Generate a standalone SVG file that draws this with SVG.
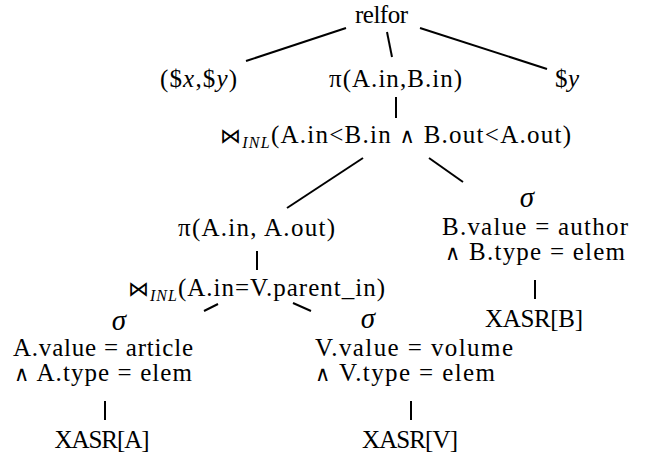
<svg xmlns="http://www.w3.org/2000/svg" width="654" height="456" viewBox="0 0 654 456">
<style>
text{font-family:"Liberation Serif","DejaVu Serif",serif;font-size:25px;fill:#000;text-anchor:middle}
.it{font-style:italic}
.sig{font-style:italic;font-size:29px}
.sub{font-style:italic;font-size:16px}
.sym{font-family:"DejaVu Sans","Liberation Serif",sans-serif;font-size:21px;font-weight:normal}
line{stroke:#000;stroke-width:2;stroke-linecap:butt}
</style>
<rect width="654" height="456" fill="#fff"/>
<g id="connectors">
<line x1="346" y1="28" x2="246" y2="61"/>
<line x1="387" y1="32" x2="392" y2="57"/>
<line x1="420" y1="28" x2="547" y2="69"/>
<line x1="396" y1="97" x2="396" y2="118"/>
<line x1="363" y1="158" x2="287" y2="208"/>
<line x1="429" y1="158" x2="463" y2="182"/>
<line x1="257" y1="251" x2="257" y2="270"/>
<line x1="218" y1="304" x2="204" y2="311"/>
<line x1="293" y1="303" x2="311" y2="311"/>
<line x1="535" y1="280" x2="535" y2="299"/>
<line x1="105" y1="401" x2="105" y2="420"/>
<line x1="411" y1="401" x2="411" y2="420"/>
</g>
<g id="relfor"><text x="381.5" y="23" textLength="53">relfor</text></g>
<g id="vars"><text x="198.5" y="87" textLength="77">($<tspan class="it">x</tspan>,$<tspan class="it">y</tspan>)</text></g>
<g id="proj1"><text x="395.5" y="87" textLength="133">π(A.in,B.in)</text></g>
<g id="y"><text x="567" y="87" textLength="24">$<tspan class="it">y</tspan></text></g>
<g id="join1"><text x="395.5" y="143" textLength="351"><tspan class="sym">⋈</tspan><tspan class="sub" dy="5">INL</tspan><tspan dy="-5">(A.in&lt;B.in <tspan class="sym">∧</tspan> B.out&lt;A.out)</tspan></text></g>
<g id="proj2"><text x="256.5" y="236" textLength="157">π(A.in, A.out)</text></g>
<g id="join2"><text x="256.5" y="296" textLength="257"><tspan class="sym">⋈</tspan><tspan class="sub" dy="5">INL</tspan><tspan dy="-5">(A.in=V.parent_in)</tspan></text></g>
<g id="selB">
<text x="527" y="207" class="sig">σ</text>
<text x="535" y="235" textLength="186">B.value = author</text>
<text x="535" y="260" textLength="180"><tspan class="sym">∧</tspan> B.type = elem</text>
</g>
<g id="xasrB"><text x="534" y="327" textLength="98">XASR[B]</text></g>
<g id="selA">
<text x="119" y="330" class="sig">σ</text>
<text x="103" y="356" textLength="180">A.value = article</text>
<text x="103" y="381" textLength="178"><tspan class="sym">∧</tspan> A.type = elem</text>
</g>
<g id="xasrA"><text x="102" y="448" textLength="95">XASR[A]</text></g>
<g id="selV">
<text x="368" y="328" class="sig">σ</text>
<text x="414" y="356" textLength="198">V.value = volume</text>
<text x="405" y="381" textLength="180"><tspan class="sym">∧</tspan> V.type = elem</text>
</g>
<g id="xasrV"><text x="410" y="448" textLength="96">XASR[V]</text></g>
</svg>
